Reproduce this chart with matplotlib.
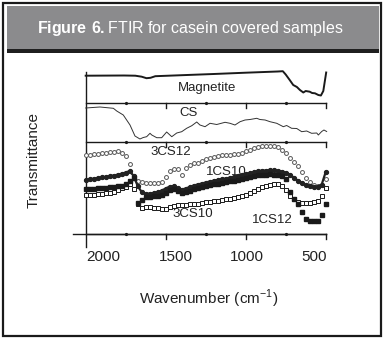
import numpy as np
import matplotlib
matplotlib.use("Agg")
from matplotlib import pyplot as plt
from matplotlib.patches import Rectangle

plt.rcParams["font.family"] = ["Liberation Sans", "DejaVu Sans"]
plt.rcParams["mathtext.fontset"] = "custom"
plt.rcParams["mathtext.rm"] = "Liberation Sans"
plt.rcParams["mathtext.bf"] = "Liberation Sans:bold"

# Magnetite and CS spectra (lines)
mag_wn = [2000, 1760, 1690, 1650, 1620, 1595, 1565, 1400, 1200, 1000, 800, 768,
          750, 725, 703, 680, 661, 640, 625, 600, 585, 567, 546, 530, 515, 497]
mag_y = [158.3, 158.5, 158.3, 157.3, 155.8, 156.2, 157.8, 158.8, 160, 161.3, 162.5,
         162.8, 159.5, 154, 149, 147, 144, 141.5, 143, 142.3, 141, 140.7, 139,
         138.5, 143, 161.5]

cs_wn = [2000, 1911, 1827, 1806, 1765, 1723, 1692, 1661, 1640, 1619, 1598, 1587,
         1556, 1525, 1494, 1462, 1431, 1400, 1369, 1337, 1306, 1286, 1254, 1223,
         1181, 1129, 1098, 1067, 1035, 1004, 973, 931, 911, 879, 848, 806, 765,
         744, 713, 681, 650, 619, 588, 556, 546, 525, 511, 494]
cs_y = [126, 127, 125.7, 123, 119, 109, 98, 95, 96.5, 97.3, 100.7, 99, 96.3, 96.3,
        102, 97.3, 101, 102.3, 105.7, 108.3, 112, 109, 107.3, 110.7, 109.5, 111.7,
        110.7, 109, 112.3, 114, 114.5, 115.7, 114.5, 114, 112.3, 110.7, 107.3,
        108.5, 105.7, 105.5, 102.3, 103, 100.7, 101, 99, 102.5, 104, 102.5]

# casein covered samples (markers), sampled every 25 cm-1 from 2000 to 500
wn = np.arange(2000, 499, -25)
s3cs12 = [79, 79.5, 80, 80.5, 81, 81.5, 82, 82.5, 83, 81.5,
          78.5, 70, 58, 53, 52, 51.3, 51, 51, 51, 52.5,
          57, 63.5, 65, 65, 59, 66.5, 69, 70.7, 71.5, 73,
          75, 76, 77, 78.3, 79, 79.3, 79.5, 80, 80.5, 81.3,
          83, 84.5, 86, 87.5, 88.3, 88.5, 88.5, 88.2, 87, 84.5,
          81, 76.5, 72, 67.7, 62, 56.5, 52, 49.5, 48.2, 49.5,
          55]
s1cs10 = [54, 54.7, 55.3, 56, 56.6, 57.2, 57.8, 58.5, 59.3, 60.3,
          61.5, 63, 58, 48, 42, 40, 40.5, 41, 42, 43.5,
          45.5, 47.5, 48, 46, 44.5, 45.5, 47, 48.5, 49.5, 50.5,
          51.5, 52.5, 53.3, 54, 54.8, 55.5, 56.3, 57.2, 58, 59,
          60, 61, 62, 62.8, 63.3, 63.5, 63.6, 63.6, 63.3, 62.5,
          61.5, 59.5, 56.5, 53.5, 51, 49, 47.8, 47.2, 47.5, 49.5,
          62]
s1cs12 = [44.7, 45, 45.3, 45.6, 46, 46.4, 46.8, 47.3, 47.8, 48.5,
          50, 53, 56, 31, 34, 37, 37.5, 38, 38.5, 39.5,
          41.5, 44, 45, 43, 41, 42, 43.5, 45, 46, 47,
          48, 49, 49.8, 50.5, 51.2, 52, 52.8, 53.5, 54.3, 55.2,
          56, 57, 58, 58.8, 59.3, 59.5, 59.6, 59.5, 59, 58,
          55, 42, 35, 30, 22, 15, 13, 13, 13.5, 19,
          30]
s3cs10 = [39, 39.2, 39.4, 39.6, 40, 40.7, 41.5, 42.3, 44, 45.7,
          47.5, 50, 45, 30, 25.7, 27, 27.5, 26, 25.7, 25,
          25.5, 27.3, 28, 28.7, 29, 29.3, 29.6, 30, 30.5, 31,
          31.7, 32.3, 33, 33.5, 34, 34.7, 35.5, 36.5, 37.3, 38.2,
          39.5, 41, 43, 45.3, 47, 48.5, 49.2, 49.6, 49.7, 48.5,
          44, 38.5, 35.5, 32.5, 31.5, 31.2, 31.3, 31.8, 33, 38,
          46]

tick_vals = [2000, 1500, 1000, 500]
tick_labels = ["2000", "1500", "1000", "500"]
tick_label_pos = [1891, 1436, 992, 573]
minor_vals = [1750, 1250, 750]
dividers = [0, 92, 131]

W, H = 386, 340
fig = plt.figure(figsize=(W / 100, H / 100), dpi=100)


def fx(px):
    return px / W


def fy(py):
    return 1 - py / H


# frame and header
fig.patches.append(Rectangle((fx(3), fy(336)), fx(378), 333 / H, fill=False,
                             lw=1.6, ec="#1a1a1a", transform=fig.transFigure))
fig.patches.append(Rectangle((fx(7), fy(49)), fx(372), 43 / H, fc="#8b8b8d",
                             ec="none", transform=fig.transFigure))
fig.patches.append(Rectangle((fx(7), fy(53)), fx(372), 4 / H, fc="#1f1f1f",
                             ec="none", transform=fig.transFigure))
fig.text(fx(190.5), fy(29), r"$\mathbf{Figure\ 6.}$FTIR for casein covered samples",
         ha="center", va="center", color="white", fontsize=11.5)

ax = fig.add_axes([fx(70), fy(250), fx(265), 190 / H])
ax.set_xlim(2098, 441.9)
ax.set_ylim(-16, 174)
ax.axis("off")

k = "#1a1a1a"
# axes lines
ax.plot([2077, 500], [0, 0], color=k, lw=1.0)
ax.plot([2000, 2000], [-13, 162], color=k, lw=1.0)
for yd in dividers:
    ax.plot([2000, 500], [yd, yd], color=k, lw=1.0)
    for t in tick_vals[1:]:
        ax.plot([t, t], [yd, yd - 5], color=k, lw=1.0)
    ax.plot(minor_vals, [yd] * len(minor_vals), "o", color=k, ms=1.3)

for p, lbl in zip(tick_label_pos, tick_labels):
    ax.text(p, -23, lbl, ha="center", va="center", fontsize=11, color="#222222")

# spectra
ax.plot(mag_wn, mag_y, color=k, lw=1.4)
ax.plot(cs_wn, cs_y, color="#333333", lw=0.7)
ax.plot(wn, s3cs12, "o", mfc="white", mec="#555555", mew=0.7, ms=2.8)
ax.plot(wn, s3cs10, "s", mfc="white", mec=k, mew=0.7, ms=3.2)
ax.plot(wn, s1cs10, "-o", color="#222222", lw=1.6, ms=2.8)
ax.plot(wn, s1cs12, "s", color=k, ms=3.4)

lab = dict(ha="center", va="center", fontsize=9.5, color="#222222")
ax.text(1244, 146.3, "Magnetite", **lab)
ax.text(1354, 121, "CS", **lab)
ax.text(1469, 82.3, "3CS12", **lab)
ax.text(1123, 62.3, "1CS10", **lab)
ax.text(1329, 20, "3CS10", **lab)
ax.text(836, 14, "1CS12", **lab)

fig.text(fx(208.7), fy(299), "Wavenumber (cm$^{-1}$)", ha="center", va="center",
         fontsize=11, color="#222222")
fig.text(fx(34), fy(160), "Transmittance", rotation=90, ha="center", va="center",
         fontsize=11, color="#222222")

fig.savefig("out.png", dpi=100)
